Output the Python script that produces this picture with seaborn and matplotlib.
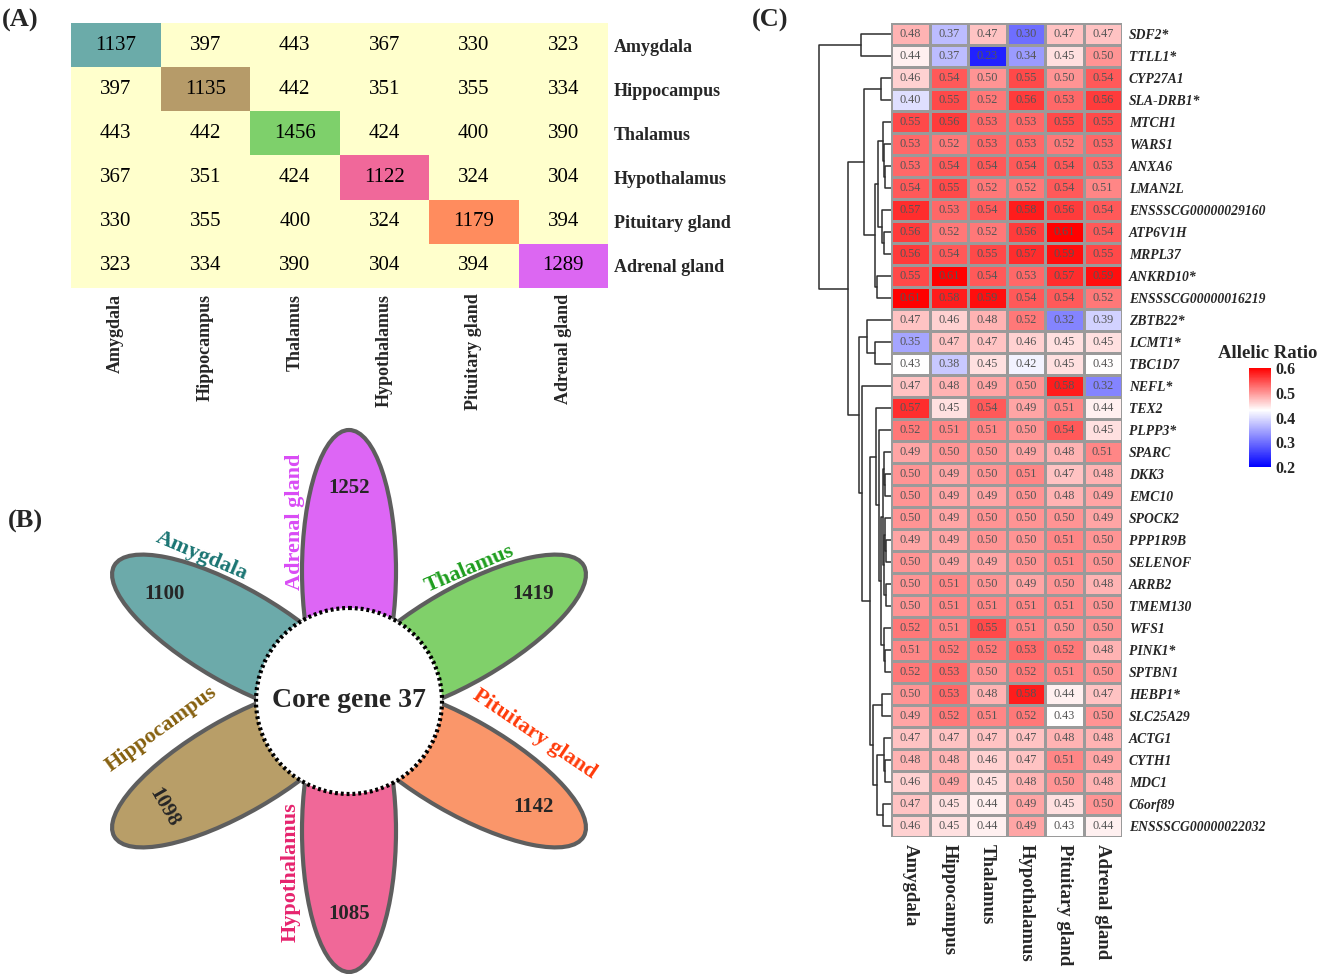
import numpy as np
import pandas as pd
import matplotlib
matplotlib.use("Agg")
import matplotlib.pyplot as plt
import seaborn as sns
from matplotlib.colors import ListedColormap, LinearSegmentedColormap
from matplotlib.patches import Ellipse, Circle

sns.set_style("white")
plt.rcParams["font.family"] = ["Liberation Serif", "DejaVu Serif"]

W, H = 1325, 974

# ---- data ----
tissues = ["Amygdala", "Hippocampus", "Thalamus", "Hypothalamus", "Pituitary gland", "Adrenal gland"]
tissue_colors = ["#6BABA9", "#B69B69", "#7ED06B", "#F0689A", "#FF8C5E", "#DC67F2"]

shared_counts = [
    [1137, 397, 443, 367, 330, 323],
    [397, 1135, 442, 351, 355, 334],
    [443, 442, 1456, 424, 400, 390],
    [367, 351, 424, 1122, 324, 304],
    [330, 355, 400, 324, 1179, 394],
    [323, 334, 390, 304, 394, 1289],
]

petal_tissues = ["Adrenal gland", "Thalamus", "Pituitary gland", "Hypothalamus", "Hippocampus", "Amygdala"]
petal_counts = [1252, 1419, 1142, 1085, 1098, 1100]
petal_fill = ["#DD66F5", "#80D06A", "#FA966A", "#F06898", "#B89E68", "#6CAAAA"]
petal_text_colors = ["#D94CF5", "#1F9E1F", "#FF3B0A", "#E6246E", "#86600F", "#1B7573"]
core_genes = 37

genes = ["SDF2*", "TTLL1*", "CYP27A1", "SLA-DRB1*", "MTCH1", "WARS1", "ANXA6", "LMAN2L",
         "ENSSSCG00000029160", "ATP6V1H", "MRPL37", "ANKRD10*", "ENSSSCG00000016219",
         "ZBTB22*", "LCMT1*", "TBC1D7", "NEFL*", "TEX2", "PLPP3*", "SPARC", "DKK3",
         "EMC10", "SPOCK2", "PPP1R9B", "SELENOF", "ARRB2", "TMEM130", "WFS1", "PINK1*",
         "SPTBN1", "HEBP1*", "SLC25A29", "ACTG1", "CYTH1", "MDC1", "C6orf89",
         "ENSSSCG00000022032"]

allelic_ratio = [
    [0.48, 0.37, 0.47, 0.30, 0.47, 0.47],
    [0.44, 0.37, 0.23, 0.34, 0.45, 0.50],
    [0.46, 0.54, 0.50, 0.55, 0.50, 0.54],
    [0.40, 0.55, 0.52, 0.56, 0.53, 0.56],
    [0.55, 0.56, 0.53, 0.53, 0.55, 0.55],
    [0.53, 0.52, 0.53, 0.53, 0.52, 0.53],
    [0.53, 0.54, 0.54, 0.54, 0.54, 0.53],
    [0.54, 0.55, 0.52, 0.52, 0.54, 0.51],
    [0.57, 0.53, 0.54, 0.58, 0.56, 0.54],
    [0.56, 0.52, 0.52, 0.56, 0.61, 0.54],
    [0.56, 0.54, 0.55, 0.57, 0.59, 0.55],
    [0.55, 0.61, 0.54, 0.53, 0.57, 0.59],
    [0.61, 0.58, 0.59, 0.54, 0.54, 0.52],
    [0.47, 0.46, 0.48, 0.52, 0.32, 0.39],
    [0.35, 0.47, 0.47, 0.46, 0.45, 0.45],
    [0.43, 0.38, 0.45, 0.42, 0.45, 0.43],
    [0.47, 0.48, 0.49, 0.50, 0.58, 0.32],
    [0.57, 0.45, 0.54, 0.49, 0.51, 0.44],
    [0.52, 0.51, 0.51, 0.50, 0.54, 0.45],
    [0.49, 0.50, 0.50, 0.49, 0.48, 0.51],
    [0.50, 0.49, 0.50, 0.51, 0.47, 0.48],
    [0.50, 0.49, 0.49, 0.50, 0.48, 0.49],
    [0.50, 0.49, 0.50, 0.50, 0.50, 0.49],
    [0.49, 0.49, 0.50, 0.50, 0.51, 0.50],
    [0.50, 0.49, 0.49, 0.50, 0.51, 0.50],
    [0.50, 0.51, 0.50, 0.49, 0.50, 0.48],
    [0.50, 0.51, 0.51, 0.51, 0.51, 0.50],
    [0.52, 0.51, 0.55, 0.51, 0.50, 0.50],
    [0.51, 0.52, 0.52, 0.53, 0.52, 0.48],
    [0.52, 0.53, 0.50, 0.52, 0.51, 0.50],
    [0.50, 0.53, 0.48, 0.58, 0.44, 0.47],
    [0.49, 0.52, 0.51, 0.52, 0.43, 0.50],
    [0.47, 0.47, 0.47, 0.47, 0.48, 0.48],
    [0.48, 0.48, 0.46, 0.47, 0.51, 0.49],
    [0.46, 0.49, 0.45, 0.48, 0.50, 0.48],
    [0.47, 0.45, 0.44, 0.49, 0.45, 0.50],
    [0.46, 0.45, 0.44, 0.49, 0.43, 0.44],
]

# row dendrogram: (merge height, left, right), leaves are row indices
row_tree = (72,
            (30, 0, 1),
            (43,
             (27,
              (10, 2, 3),
              (16,
               (12.5,
                (7.5, 4, (7, 5, (6, 6, 7))),
                (8.5, 8, (7, 9, 10))),
               (13.5, 11, 12))),
             (32,
              (24, 13, (16, 14, 15)),
              (28.5, 16,
               (21,
                (15, 17,
                 (11.5, 18,
                  (9.5,
                   (8, (6.5, 19, (6, 20, 21)),
                    (7, (5.5, 22, (4.5, 23, 24)), (5, 25, 26))),
                   (7, 27, (6, 28, 29))))),
                (17.5, (9, 30, 31),
                 (14, (7, 32, (6, 33, 34)), (8, 35, 36))))))))

# ---- layout (pixels) ----
petal_angles = [90, 30, -30, -90, 210, 150]
flower_center = (349, 701)
label_pos = [(295, 522), (470, 569), (534, 734), (291, 872), (161, 729), (202, 556)]
label_rot = [90, 23, -34, 90, 36, -23]
number_rot = [0, 0, 0, 0, -60, 0]

fig = plt.figure(figsize=(W / 100, H / 100), dpi=100)


def px_axes(x0, y0, x1, y1):
    return fig.add_axes([x0 / W, 1 - y1 / H, (x1 - x0) / W, (y1 - y0) / H])


# ---- (A) shared gene matrix ----
axA = px_axes(71, 23, 608, 288)
counts = np.array(shared_counts)
n = len(tissues)
diag = np.eye(n, dtype=bool)
sns.heatmap(pd.DataFrame(counts, index=tissues, columns=tissues), ax=axA, mask=diag,
            cmap=ListedColormap(["#FFFFCC"]), cbar=False, annot=True, fmt="d",
            annot_kws={"size": 15, "color": "black"})
sns.heatmap(pd.DataFrame(np.tile(np.arange(n), (n, 1)), index=tissues, columns=tissues),
            ax=axA, mask=~diag, cmap=ListedColormap(tissue_colors), vmin=-0.5, vmax=n - 0.5,
            cbar=False, annot=counts, fmt="d", annot_kws={"size": 15, "color": "black"})
axA.yaxis.tick_right()
axA.set_yticklabels(tissues, rotation=0, fontsize=13, fontweight="bold")
axA.set_xticklabels(tissues, rotation=90, fontsize=13, fontweight="bold")
axA.tick_params(length=0, pad=4)

# ---- (B) flower plot ----
axB = px_axes(90, 420, 630, 974)
axB.set_xlim(90, 630)
axB.set_ylim(974, 420)
axB.axis("off")
cx, cy = flower_center
for ang, fill in zip(petal_angles, petal_fill):
    t = np.deg2rad(ang)
    e = Ellipse((cx + 130 * np.cos(t), cy - 130 * np.sin(t)), 282, 94, angle=-ang,
                facecolor=fill, edgecolor="#5E5E5E", lw=3, zorder=2)
    axB.add_patch(e)
axB.add_patch(Circle((cx, cy), 93, facecolor="white", edgecolor="black", lw=3,
                     linestyle=(0, (0.7, 0.7)), zorder=3))
axB.text(cx, cy, f"Core gene {core_genes}", ha="center", va="center", fontsize=20,
         fontweight="bold", zorder=4)
for ang, cnt, rot in zip(petal_angles, petal_counts, number_rot):
    t = np.deg2rad(ang)
    axB.text(cx + 213 * np.cos(t), cy - 213 * np.sin(t), str(cnt), ha="center", va="center",
             fontsize=15, fontweight="bold", rotation=rot, zorder=4)
for name, col, pos, rot in zip(petal_tissues, petal_text_colors, label_pos, label_rot):
    axB.text(pos[0], pos[1], name, color=col, ha="center", va="center", fontsize=16,
             fontweight="bold", rotation=rot, rotation_mode="anchor", zorder=4)

# ---- (C) allelic ratio heatmap with row dendrogram ----
axD = px_axes(815, 23, 891, 837)
axD.set_xlim(76, 0)
axD.set_ylim(len(genes), 0)
axD.axis("off")


def draw_tree(ax, node):
    if isinstance(node, int):
        return node + 0.5, 0.0
    h, left, right = node
    y1, h1 = draw_tree(ax, left)
    y2, h2 = draw_tree(ax, right)
    ax.plot([h1, h, h, h2], [y1, y1, y2, y2], color="#2E2E2E", lw=1.1)
    return (y1 + y2) / 2, h


draw_tree(axD, row_tree)

axC = px_axes(891, 23, 1122, 837)
cax = px_axes(1249, 368, 1271, 467)
ratio_df = pd.DataFrame(allelic_ratio, index=genes, columns=tissues)
ar_cmap = LinearSegmentedColormap.from_list(
    "ar", [(0, "#0000FF"), (0.575, "#FFFFFF"), (1, "#FF0000")])
sns.heatmap(ratio_df, ax=axC, cmap=ar_cmap, vmin=0.2, vmax=0.6, annot=True, fmt=".2f",
            annot_kws={"size": 8.8, "color": "#555555"}, linewidths=0.8, linecolor="#9A9A9A",
            cbar_ax=cax, cbar_kws={"ticks": [0.2, 0.3, 0.4, 0.5, 0.6]})
axC.yaxis.tick_right()
axC.set_yticklabels(genes, rotation=0, fontsize=9.8, fontweight="bold", fontstyle="italic")
axC.set_xticklabels(tissues, rotation=270, fontsize=13.5, fontweight="bold")
axC.tick_params(length=0, pad=5)

cbar = axC.collections[0].colorbar
cbar.outline.set_visible(False)
cax.tick_params(axis="y", direction="in", length=4, width=1, color="white",
                left=True, right=True, labelleft=False, labelright=True, labelsize=11.5, pad=3)
for t in cax.get_yticklabels():
    t.set_fontweight("bold")
fig.text(1268 / W, 1 - 353 / H, "Allelic Ratio", ha="center", va="center",
         fontsize=13.5, fontweight="bold")

# ---- panel letters ----
fig.text(2 / W, 1 - 20 / H, "(A)", ha="left", va="center", fontsize=19, fontweight="bold")
fig.text(8 / W, 1 - 521 / H, "(B)", ha="left", va="center", fontsize=19, fontweight="bold")
fig.text(752 / W, 1 - 20 / H, "(C)", ha="left", va="center", fontsize=19, fontweight="bold")

fig.savefig("out.png", dpi=100)
